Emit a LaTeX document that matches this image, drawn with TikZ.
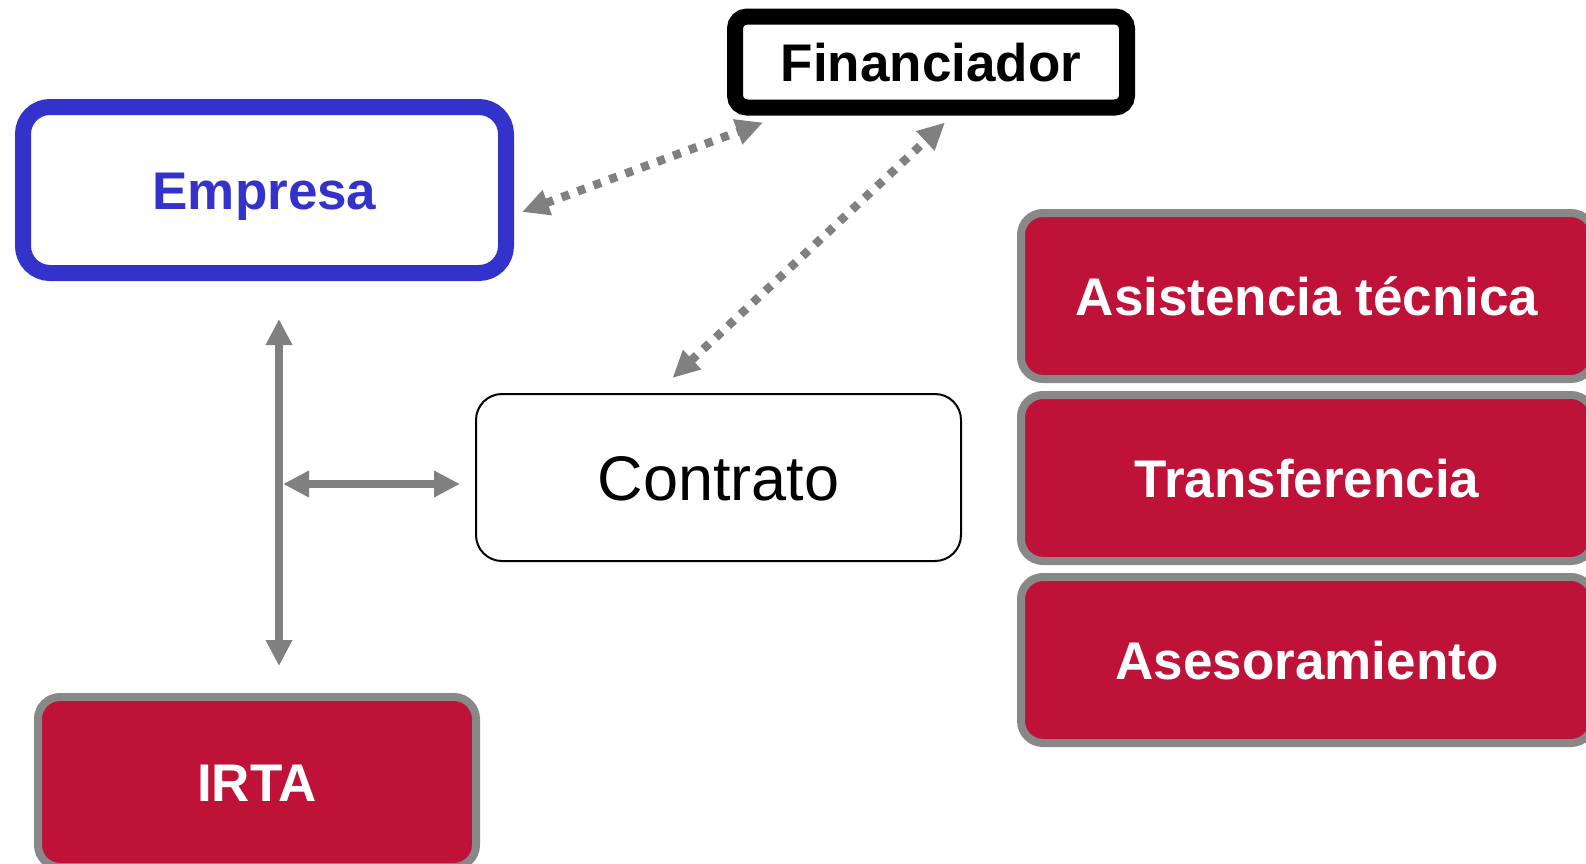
\documentclass[tikz,border=0pt]{standalone}
\usepackage{fontspec}
\setmainfont{Liberation Sans}
\usetikzlibrary{arrows.meta,positioning,calc}
\definecolor{empblue}{HTML}{3333CC}
\definecolor{irtared}{HTML}{BE1238}
\definecolor{arrgray}{HTML}{808080}
\definecolor{boxgray}{HTML}{888888}

\begin{document}
\begin{tikzpicture}[x=1pt,y=-1pt,
	bigtxt/.style={font=\fontsize{53}{60}\selectfont\bfseries,text height=38pt,text depth=0pt},
	empbox/.style={bigtxt,draw=empblue,line width=16pt,rounded corners=27pt,minimum width=483pt,minimum height=166pt,text=empblue},
	finbox/.style={bigtxt,draw=black,line width=16pt,rounded corners=12pt,minimum width=392pt,minimum height=91pt},
	conbox/.style={font=\fontsize{63}{70}\selectfont,text height=45pt,text depth=0pt,draw=black,line width=2pt,rounded corners=26pt,minimum width=485pt,minimum height=167pt},
	redbox/.style={bigtxt,draw=boxgray,fill=irtared,line width=8pt,rounded corners=22pt,minimum width=572pt,minimum height=166pt,text=white},
	solidarrow/.style={arrgray,line width=8pt,{Triangle[length=26pt,width=25pt]}-{Triangle[length=26pt,width=25pt]}},
	dotarrow/.style={arrgray,line width=8.5pt,dash pattern=on 8pt off 9pt,{Triangle[length=27pt,width=25pt]}-{Triangle[length=27pt,width=25pt]}}]
	\useasboundingbox (0,0) rectangle (1586,863);

	\node[empbox] (emp) at (264.5,190) {Empresa};
	\node[finbox] (fin) at (931,62) {Financiador};
	\node[conbox] (con) at (718.5,477.5) {Contrato};
	\node[redbox,minimum width=438pt,minimum height=170pt] (irta) at (257,782) {IRTA};

	% services, cut off at the right edge
	\node[redbox] (asi) at (1307,296) {Asistencia técnica};
	\node[redbox] (tra) [below=8pt of asi] {Transferencia};
	\node[redbox] (ase) [below=8pt of tra] {Asesoramiento};

	\coordinate (vtop) at (279,319);
	\coordinate (vbot) at (279,666);
	\coordinate (vmid) at (283,484);

	\draw[solidarrow] (vtop) -- (vbot);
	\draw[solidarrow,shorten >=15pt] (vmid) -- (vmid -| con.west);
	\draw[dotarrow] ($(emp.east)+(8,22)$) -- ($(fin.south west)+(36,7)$);
	\draw[dotarrow] ($(con.north)+(-46,-15)$) -- ($(fin.south)+(14,7)$);
\end{tikzpicture}
\end{document}
